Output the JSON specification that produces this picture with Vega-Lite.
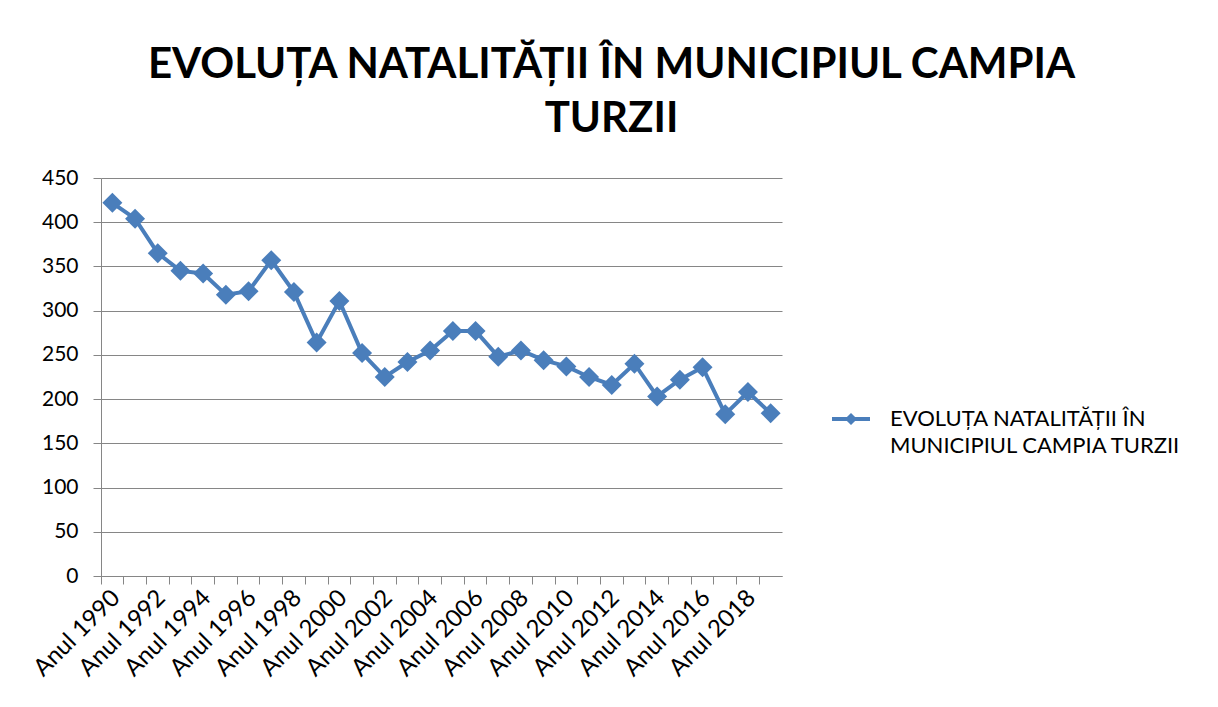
{
  "$schema": "https://vega.github.io/schema/vega-lite/v6.json",
  "width": 681,
  "height": 398,
  "autosize": {"type": "none"},
  "padding": {"left": 101, "top": 178, "right": 436, "bottom": 131},
  "background": "white",
  "title": {
    "text": ["EVOLUȚA NATALITĂȚII ÎN MUNICIPIUL CAMPIA", "TURZII"],
    "font": "Lato",
    "fontSize": 42,
    "fontWeight": "bold",
    "color": "#000000",
    "anchor": "middle",
    "frame": "group",
    "dx": 170,
    "lineHeight": 54,
    "offset": 26
  },
  "data": {
    "values": [
      {"year": "Anul 1990", "value": 422, "series": "EVOLUȚA NATALITĂȚII ÎN MUNICIPIUL CAMPIA TURZII"},
      {"year": "Anul 1991", "value": 404, "series": "EVOLUȚA NATALITĂȚII ÎN MUNICIPIUL CAMPIA TURZII"},
      {"year": "Anul 1992", "value": 365, "series": "EVOLUȚA NATALITĂȚII ÎN MUNICIPIUL CAMPIA TURZII"},
      {"year": "Anul 1993", "value": 345, "series": "EVOLUȚA NATALITĂȚII ÎN MUNICIPIUL CAMPIA TURZII"},
      {"year": "Anul 1994", "value": 342, "series": "EVOLUȚA NATALITĂȚII ÎN MUNICIPIUL CAMPIA TURZII"},
      {"year": "Anul 1995", "value": 318, "series": "EVOLUȚA NATALITĂȚII ÎN MUNICIPIUL CAMPIA TURZII"},
      {"year": "Anul 1996", "value": 322, "series": "EVOLUȚA NATALITĂȚII ÎN MUNICIPIUL CAMPIA TURZII"},
      {"year": "Anul 1997", "value": 357, "series": "EVOLUȚA NATALITĂȚII ÎN MUNICIPIUL CAMPIA TURZII"},
      {"year": "Anul 1998", "value": 321, "series": "EVOLUȚA NATALITĂȚII ÎN MUNICIPIUL CAMPIA TURZII"},
      {"year": "Anul 1999", "value": 264, "series": "EVOLUȚA NATALITĂȚII ÎN MUNICIPIUL CAMPIA TURZII"},
      {"year": "Anul 2000", "value": 311, "series": "EVOLUȚA NATALITĂȚII ÎN MUNICIPIUL CAMPIA TURZII"},
      {"year": "Anul 2001", "value": 252, "series": "EVOLUȚA NATALITĂȚII ÎN MUNICIPIUL CAMPIA TURZII"},
      {"year": "Anul 2002", "value": 225, "series": "EVOLUȚA NATALITĂȚII ÎN MUNICIPIUL CAMPIA TURZII"},
      {"year": "Anul 2003", "value": 242, "series": "EVOLUȚA NATALITĂȚII ÎN MUNICIPIUL CAMPIA TURZII"},
      {"year": "Anul 2004", "value": 255, "series": "EVOLUȚA NATALITĂȚII ÎN MUNICIPIUL CAMPIA TURZII"},
      {"year": "Anul 2005", "value": 277, "series": "EVOLUȚA NATALITĂȚII ÎN MUNICIPIUL CAMPIA TURZII"},
      {"year": "Anul 2006", "value": 277, "series": "EVOLUȚA NATALITĂȚII ÎN MUNICIPIUL CAMPIA TURZII"},
      {"year": "Anul 2007", "value": 248, "series": "EVOLUȚA NATALITĂȚII ÎN MUNICIPIUL CAMPIA TURZII"},
      {"year": "Anul 2008", "value": 255, "series": "EVOLUȚA NATALITĂȚII ÎN MUNICIPIUL CAMPIA TURZII"},
      {"year": "Anul 2009", "value": 244, "series": "EVOLUȚA NATALITĂȚII ÎN MUNICIPIUL CAMPIA TURZII"},
      {"year": "Anul 2010", "value": 237, "series": "EVOLUȚA NATALITĂȚII ÎN MUNICIPIUL CAMPIA TURZII"},
      {"year": "Anul 2011", "value": 225, "series": "EVOLUȚA NATALITĂȚII ÎN MUNICIPIUL CAMPIA TURZII"},
      {"year": "Anul 2012", "value": 216, "series": "EVOLUȚA NATALITĂȚII ÎN MUNICIPIUL CAMPIA TURZII"},
      {"year": "Anul 2013", "value": 240, "series": "EVOLUȚA NATALITĂȚII ÎN MUNICIPIUL CAMPIA TURZII"},
      {"year": "Anul 2014", "value": 203, "series": "EVOLUȚA NATALITĂȚII ÎN MUNICIPIUL CAMPIA TURZII"},
      {"year": "Anul 2015", "value": 222, "series": "EVOLUȚA NATALITĂȚII ÎN MUNICIPIUL CAMPIA TURZII"},
      {"year": "Anul 2016", "value": 236, "series": "EVOLUȚA NATALITĂȚII ÎN MUNICIPIUL CAMPIA TURZII"},
      {"year": "Anul 2017", "value": 183, "series": "EVOLUȚA NATALITĂȚII ÎN MUNICIPIUL CAMPIA TURZII"},
      {"year": "Anul 2018", "value": 208, "series": "EVOLUȚA NATALITĂȚII ÎN MUNICIPIUL CAMPIA TURZII"},
      {"year": "Anul 2019", "value": 184, "series": "EVOLUȚA NATALITĂȚII ÎN MUNICIPIUL CAMPIA TURZII"}
    ]
  },
  "mark": {
    "type": "line",
    "strokeWidth": 4,
    "point": {"shape": "diamond", "size": 400, "filled": true, "opacity": 1}
  },
  "encoding": {
    "x": {
      "field": "year",
      "type": "ordinal",
      "sort": null,
      "scale": {"type": "band", "paddingInner": 0, "paddingOuter": 0},
      "axis": {
        "title": null,
        "grid": false,
        "bandPosition": 0,
        "labelAngle": -45,
        "labelAlign": "right",
        "labelBaseline": "middle",
        "labelFont": "Lato",
        "labelFontSize": 24,
        "labelColor": "#000000",
        "labelOverlap": false,
        "labelPadding": 10,
        "labelOffset": 4,
        "labelExpr": "toNumber(slice(datum.value, 5)) % 2 === 0 ? datum.value : ''",
        "tickColor": "#868686",
        "tickSize": 8,
        "domainColor": "#868686"
      }
    },
    "y": {
      "field": "value",
      "type": "quantitative",
      "scale": {"domain": [0, 450], "nice": false},
      "axis": {
        "title": null,
        "values": [0, 50, 100, 150, 200, 250, 300, 350, 400, 450],
        "grid": true,
        "gridColor": "#868686",
        "domainColor": "#868686",
        "tickColor": "#868686",
        "tickSize": 8,
        "labelFont": "Lato",
        "labelFontSize": 21,
        "labelColor": "#000000",
        "labelPadding": 15
      }
    },
    "color": {
      "field": "series",
      "type": "nominal",
      "scale": {"range": ["#4a7ebb"]},
      "legend": {
        "title": null,
        "orient": "none",
        "legendX": 731,
        "legendY": 222,
        "symbolType": "M-1,-0.1L1,-0.1L1,0.1L-1,0.1Z M0,-0.32L0.32,0L0,0.32L-0.32,0Z",
        "symbolSize": 1444,
        "symbolFillColor": "#4a7ebb",
        "symbolStrokeColor": "#4a7ebb",
        "symbolStrokeWidth": 0,
        "labelFont": "Lato",
        "labelFontSize": 22,
        "labelColor": "#000000",
        "labelOffset": 20,
        "labelLimit": 400,
        "labelExpr": "['EVOLUȚA NATALITĂȚII ÎN', 'MUNICIPIUL CAMPIA TURZII']"
      }
    }
  },
  "config": {
    "view": {"stroke": null},
    "style": {"guide-label": {"lineHeight": 27}}
  }
}
